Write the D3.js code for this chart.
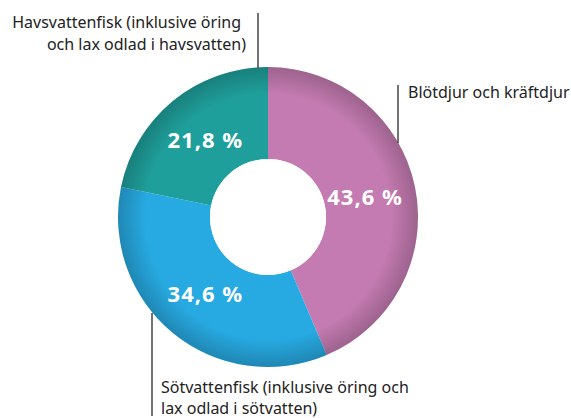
<!DOCTYPE html>
<html>
<head>
<meta charset="utf-8">
<script src="https://cdn.jsdelivr.net/npm/d3@7"></script>
<style>
  body { margin: 0; background: #fff; }
  svg { display: block; }
</style>
</head>
<body>
<div id="chart"></div>
<script>
// data
var categories = ["Blötdjur och kräftdjur",
                  "Sötvattenfisk (inklusive öring och lax odlad i sötvatten)",
                  "Havsvattenfisk (inklusive öring och lax odlad i havsvatten)"];
var values = [43.6, 34.6, 21.8];
var valueLabels = ["43,6 %", "34,6 %", "21,8 %"];
var labelLines = [
    ["Blötdjur och kräftdjur"],
    ["Sötvattenfisk (inklusive öring och", "lax odlad i sötvatten)"],
    ["Havsvattenfisk (inklusive öring", "och lax odlad i havsvatten)"]
];
var colors = ["#c47bb1", "#27a9e1", "#1f9f9b"];

var width = 571, height = 418;
var cx = 268, cy = 217, outerR = 150, innerR = 58;

var svg = d3.select("#chart")
    .append("svg")
    .attr("width", width)
    .attr("height", height)
    .style("font-family", "'Noto Sans', sans-serif");

// rim shading
var defs = svg.append("defs");
var grad = defs.append("radialGradient")
    .attr("id", "rim")
    .attr("gradientUnits", "userSpaceOnUse")
    .attr("cx", cx).attr("cy", cy).attr("r", outerR);
grad.append("stop").attr("offset", "0.82").attr("stop-color", "#000").attr("stop-opacity", 0);
grad.append("stop").attr("offset", "1").attr("stop-color", "#000").attr("stop-opacity", 0.2);

var pie = d3.pie().sort(null).value(d => d);
var arcs = pie(values);

var arc = d3.arc().innerRadius(innerR).outerRadius(outerR);
var labelArc = d3.arc().innerRadius(99).outerRadius(99);

var g = svg.append("g")
    .attr("transform", "translate(" + cx + "," + cy + ")");

g.selectAll("path.slice")
    .data(arcs)
    .enter()
    .append("path")
    .attr("class", "slice")
    .attr("d", arc)
    .attr("fill", (d, i) => colors[i]);

svg.append("circle")
    .attr("cx", cx).attr("cy", cy)
    .attr("r", outerR)
    .attr("fill", "url(#rim)");

// hole stays white
svg.append("circle").attr("cx", cx).attr("cy", cy).attr("r", innerR).attr("fill", "#fff");

svg.append("g")
    .attr("transform", "translate(" + cx + "," + cy + ")")
    .selectAll("text.pct")
    .data(arcs)
    .enter()
    .append("text")
    .attr("class", "pct")
    .attr("transform", d => "translate(" + labelArc.centroid(d) + ")")
    .attr("text-anchor", "middle")
    .attr("dy", "0.36em")
    .style("font-size", "22px")
    .style("font-weight", "bold")
    .style("letter-spacing", "1px")
    .style("fill", "#fff")
    .text((d, i) => valueLabels[i]);

// leader lines and outside labels
var lineColor = "#444";
var stroke = 1.5;
var fs = "16px";

// Blötdjur
svg.append("line")
    .attr("x1", 398).attr("y1", 85).attr("x2", 398).attr("y2", 143)
    .attr("stroke", lineColor).attr("stroke-width", stroke);
svg.append("text")
    .attr("x", 408).attr("y", 98)
    .style("font-size", fs).style("fill", "#222")
    .text(labelLines[0][0]);

// Sötvattenfisk
svg.append("line")
    .attr("x1", 152).attr("y1", 313).attr("x2", 152).attr("y2", 416)
    .attr("stroke", lineColor).attr("stroke-width", stroke);
svg.append("text")
    .attr("x", 161).attr("y", 393)
    .style("font-size", fs).style("fill", "#222")
    .selectAll("tspan")
    .data(labelLines[1])
    .enter()
    .append("tspan")
    .attr("x", 161)
    .attr("dy", (d, i) => i ? 21 : 0)
    .text(d => d);

// Havsvattenfisk
svg.append("line")
    .attr("x1", 258).attr("y1", 13).attr("x2", 258).attr("y2", 68)
    .attr("stroke", lineColor).attr("stroke-width", stroke);
svg.append("text")
    .attr("y", 28)
    .attr("text-anchor", "end")
    .style("font-size", fs).style("fill", "#222")
    .selectAll("tspan")
    .data(labelLines[2])
    .enter()
    .append("tspan")
    .attr("x", (d, i) => i ? 246 : 241)
    .attr("dy", (d, i) => i ? 22 : 0)
    .text(d => d);
</script>
</body>
</html>
